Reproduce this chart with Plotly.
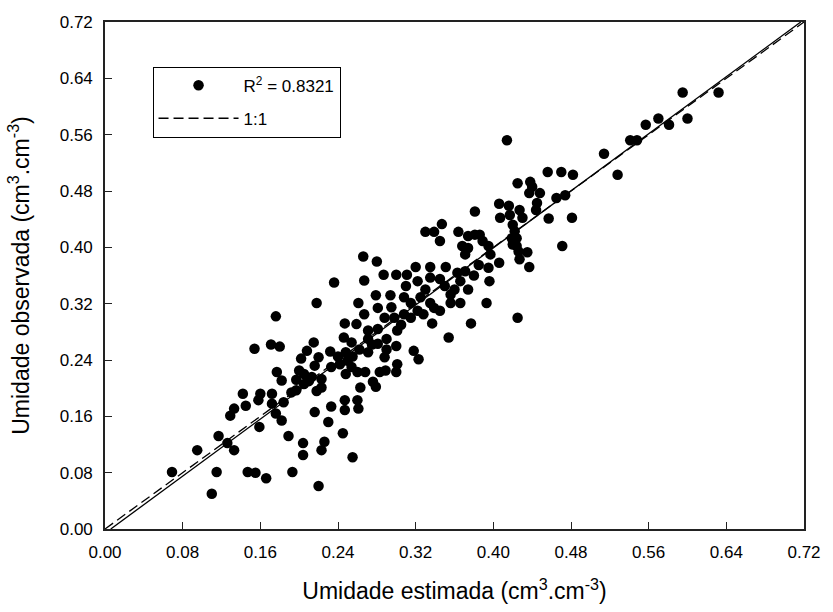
import plotly.graph_objects as go

# Observed vs estimated soil moisture (cm3.cm-3)
estimada = [
    0.069, 0.095, 0.110, 0.115, 0.117, 0.126, 0.133, 0.129, 0.133, 0.142,
    0.145, 0.147, 0.155, 0.166, 0.159, 0.158, 0.160, 0.172, 0.172, 0.176,
    0.182, 0.184, 0.182, 0.189, 0.236, 0.218, 0.176, 0.154, 0.171, 0.180,
    0.247, 0.246, 0.215, 0.208, 0.202, 0.220, 0.232, 0.216, 0.242, 0.177,
    0.197, 0.205, 0.213, 0.223, 0.192, 0.216, 0.233, 0.230, 0.247, 0.247,
    0.245, 0.197, 0.205, 0.204, 0.226, 0.223, 0.204, 0.220, 0.193, 0.255,
    0.260, 0.261, 0.263, 0.279, 0.276, 0.260, 0.268, 0.283, 0.289, 0.300,
    0.301, 0.323, 0.248, 0.233, 0.250, 0.218, 0.223, 0.347, 0.330, 0.339,
    0.345, 0.364, 0.374, 0.368, 0.374, 0.371, 0.381, 0.266, 0.280, 0.267,
    0.287, 0.300, 0.311, 0.320, 0.335, 0.351, 0.322, 0.335, 0.363, 0.371,
    0.366, 0.374, 0.261, 0.279, 0.294, 0.308, 0.315, 0.325, 0.335, 0.339,
    0.356, 0.356, 0.366, 0.281, 0.267, 0.259, 0.288, 0.298, 0.308, 0.322,
    0.337, 0.301, 0.281, 0.271, 0.377, 0.354, 0.254, 0.271, 0.281, 0.248,
    0.271, 0.288, 0.318, 0.254, 0.381, 0.414, 0.514, 0.528, 0.456, 0.470,
    0.482, 0.425, 0.438, 0.440, 0.437, 0.448, 0.445, 0.444, 0.465, 0.474,
    0.457, 0.481, 0.471, 0.406, 0.416, 0.407, 0.417, 0.427, 0.430, 0.420,
    0.422, 0.424, 0.419, 0.420, 0.424, 0.426, 0.435, 0.427, 0.437, 0.406,
    0.395, 0.386, 0.389, 0.395, 0.397, 0.425, 0.393, 0.396, 0.595, 0.632,
    0.600, 0.581, 0.570, 0.557, 0.541, 0.548,
    0.262, 0.275, 0.290, 0.305, 0.315, 0.328, 0.345, 0.350, 0.360, 0.330,
    0.295, 0.310, 0.345, 0.240, 0.255, 0.290, 0.300, 0.385, 0.380, 0.210,
    0.200,
]
observada = [
    0.081, 0.112, 0.050, 0.081, 0.132, 0.122, 0.112, 0.161, 0.171, 0.192,
    0.175, 0.081, 0.080, 0.072, 0.145, 0.183, 0.192, 0.192, 0.178, 0.164,
    0.154, 0.180, 0.211, 0.132, 0.350, 0.321, 0.302, 0.256, 0.262, 0.259,
    0.292, 0.272, 0.265, 0.253, 0.242, 0.244, 0.252, 0.232, 0.234, 0.223,
    0.212, 0.220, 0.216, 0.213, 0.194, 0.166, 0.174, 0.152, 0.183, 0.169,
    0.136, 0.197, 0.206, 0.122, 0.124, 0.112, 0.105, 0.061, 0.081, 0.102,
    0.183, 0.171, 0.201, 0.202, 0.209, 0.223, 0.223, 0.223, 0.225, 0.223,
    0.234, 0.241, 0.220, 0.230, 0.239, 0.196, 0.201, 0.433, 0.422, 0.422,
    0.409, 0.422, 0.416, 0.402, 0.399, 0.390, 0.418, 0.387, 0.380, 0.353,
    0.361, 0.361, 0.361, 0.372, 0.372, 0.372, 0.352, 0.357, 0.364, 0.366,
    0.352, 0.340, 0.321, 0.332, 0.332, 0.329, 0.321, 0.329, 0.321, 0.314,
    0.333, 0.321, 0.321, 0.314, 0.305, 0.291, 0.300, 0.300, 0.305, 0.310,
    0.292, 0.282, 0.284, 0.282, 0.292, 0.272, 0.265, 0.270, 0.263, 0.251,
    0.251, 0.244, 0.253, 0.230, 0.451, 0.552, 0.533, 0.503, 0.507, 0.507,
    0.503, 0.491, 0.493, 0.486, 0.477, 0.477, 0.463, 0.453, 0.470, 0.474,
    0.441, 0.442, 0.402, 0.462, 0.459, 0.442, 0.446, 0.453, 0.442, 0.432,
    0.423, 0.413, 0.413, 0.404, 0.402, 0.394, 0.393, 0.383, 0.372, 0.378,
    0.371, 0.418, 0.409, 0.402, 0.390, 0.300, 0.321, 0.352, 0.620, 0.620,
    0.583, 0.574, 0.583, 0.574, 0.552, 0.552,
    0.255, 0.262, 0.270, 0.290, 0.300, 0.305, 0.310, 0.345, 0.340, 0.340,
    0.315, 0.345, 0.355, 0.245, 0.245, 0.255, 0.260, 0.375, 0.360, 0.210,
    0.225,
]

# Fitted line coefficients and 1:1 reference
fit_slope = 1.013
fit_intercept = -0.006
axis_min = 0.0
axis_max = 0.72
tick_vals = [0.00, 0.08, 0.16, 0.24, 0.32, 0.40, 0.48, 0.56, 0.64, 0.72]
tick_text = ["0.00", "0.08", "0.16", "0.24", "0.32", "0.40", "0.48", "0.56", "0.64", "0.72"]

fit_x0 = (axis_min - fit_intercept) / fit_slope
fit_x1 = (axis_max - fit_intercept) / fit_slope
fit_x = [fit_x0, min(fit_x1, axis_max)]
fit_y = [fit_slope * v + fit_intercept for v in fit_x]

FONT = "Arial, Liberation Sans, Helvetica, sans-serif"

fig = go.Figure()
fig.add_trace(go.Scatter(
    x=fit_x, y=fit_y, mode="lines",
    line=dict(color="black", width=1.3),
    showlegend=False, hoverinfo="skip",
))
fig.add_trace(go.Scatter(
    x=[axis_min, axis_max], y=[axis_min, axis_max], mode="lines",
    line=dict(color="black", width=1.3, dash="10px,5px"),
    name="1:1", legendgroup="b", legendrank=2,
))
fig.add_trace(go.Scatter(
    x=estimada, y=observada, mode="markers",
    marker=dict(color="black", size=10.5, line=dict(width=0)),
    name="R<sup>2</sup> = 0.8321", legendgroup="a", legendrank=1,
))

axis_common = dict(
    range=[axis_min, axis_max],
    tickvals=tick_vals, ticktext=tick_text,
    ticks="inside", ticklen=7, tickwidth=1.3, tickcolor="#222",
    showline=True, linecolor="#222", linewidth=1.6, mirror=True,
    showgrid=False, zeroline=False,
    tickfont=dict(family=FONT, size=17, color="black"),
    ticklabelstandoff=7,
)

fig.update_layout(
    width=833, height=612,
    margin=dict(l=105, r=23, t=22, b=79),
    paper_bgcolor="white", plot_bgcolor="white",
    xaxis=dict(axis_common, title=dict(
        text="Umidade estimada (cm<sup>3</sup>.cm<sup>-3</sup>)",
        font=dict(family=FONT, size=23, color="black"), standoff=22)),
    yaxis=dict(axis_common, title=dict(
        text="Umidade observada (cm<sup>3</sup>.cm<sup>-3</sup>)",
        font=dict(family=FONT, size=23, color="black"), standoff=24)),
    legend=dict(
        x=0.068, y=0.912, xanchor="left", yanchor="top",
        bordercolor="black", borderwidth=1, bgcolor="white",
        font=dict(family=FONT, size=17, color="black"),
        traceorder="grouped", tracegroupgap=8, itemwidth=80,
    ),
    showlegend=True,
)

fig.write_html("out.html")
